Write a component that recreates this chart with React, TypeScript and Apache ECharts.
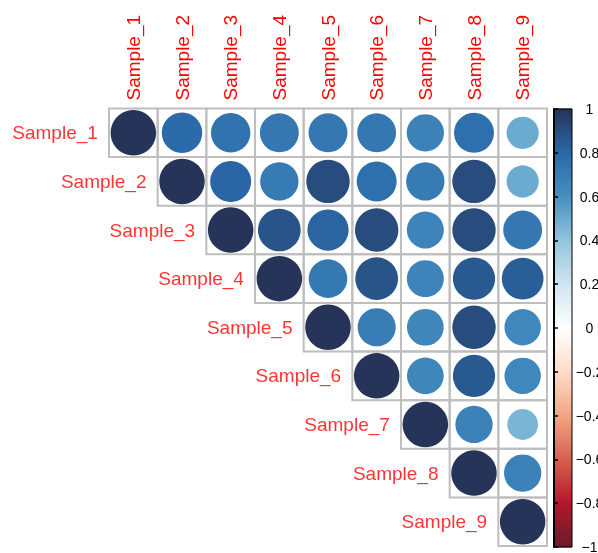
import React, { useEffect, useRef } from "react";
import * as echarts from "echarts";

const samples = ["Sample_1", "Sample_2", "Sample_3", "Sample_4", "Sample_5", "Sample_6", "Sample_7", "Sample_8", "Sample_9"];

// upper-triangle correlations, row i starts at column i
const row1 = [1, 0.79, 0.75, 0.73, 0.73, 0.73, 0.67, 0.77, 0.5];
const row2 = [1, 0.81, 0.71, 0.91, 0.77, 0.71, 0.91, 0.5];
const row3 = [1, 0.88, 0.82, 0.91, 0.66, 0.91, 0.73];
const row4 = [1, 0.72, 0.88, 0.66, 0.86, 0.84];
const row5 = [1, 0.7, 0.65, 0.91, 0.64];
const row6 = [1, 0.65, 0.86, 0.64];
const row7 = [1, 0.67, 0.46];
const row8 = [1, 0.67];
const row9 = [1];
const corrRows = [row1, row2, row3, row4, row5, row6, row7, row8, row9];

// colour scale from -1 to 1
const colorStops = [
  "#6b1a2c", "#b2182b", "#d6604d", "#f4a582", "#fddbc7", "#ffffff",
  "#d1e5f0", "#92c5de", "#4690c1", "#2a69a9", "#263459",
];
const legendTicks = { min: -1, max: 1, interval: 0.2 };
const legendSteps = 200;

export default function App() {
  const ref = useRef<HTMLDivElement>(null);
  useEffect(() => {
    const chart = echarts.init(ref.current!, undefined, { renderer: "svg" });
    const cells: number[][] = [];
    const circles: number[][] = [];
    corrRows.forEach((row, i) => {
      row.forEach((v, k) => {
        const j = i + k;
        cells.push([j, i]);
        circles.push([j, i, v]);
      });
    });
    const step = (legendTicks.max - legendTicks.min) / legendSteps;
    const slices: number[][] = [];
    for (let k = 0; k < legendSteps; k++) {
      const v = legendTicks.min + step * (k + 0.5);
      slices.push([0.5, v, v]);
    }
    const font = "Liberation Sans, Arial, sans-serif";
    chart.setOption({
      animation: false,
      grid: [
        { left: 109, top: 108.5, width: 438, height: 437.5, outerBoundsMode: "none", containLabel: false },
        {
          left: 554, top: 109, width: 18, height: 438, show: true,
          outerBoundsMode: "none", containLabel: false,
          borderColor: "#000", borderWidth: 1, backgroundColor: "transparent", z: 10,
        },
      ],
      xAxis: [
        {
          type: "category", data: samples, position: "top", gridIndex: 0,
          axisLine: { show: false }, axisTick: { show: false }, splitLine: { show: false },
          axisLabel: { rotate: -90, color: "red", fontSize: 19, margin: 8, fontFamily: font },
        },
        { type: "value", gridIndex: 1, show: false, min: 0, max: 1 },
      ],
      yAxis: [
        { type: "category", data: samples, inverse: true, gridIndex: 0, show: false },
        {
          type: "value", gridIndex: 1, position: "right",
          min: legendTicks.min, max: legendTicks.max, interval: legendTicks.interval,
          axisLine: { show: true, lineStyle: { color: "#000", width: 2 } },
          axisTick: { show: true, length: 4, lineStyle: { color: "#000", width: 1.5 } },
          splitLine: { show: false },
          axisLabel: {
            color: "#000", fontSize: 14, fontFamily: font, align: "center", margin: 17.5,
            formatter: (v: number) => {
              const r = Math.round(v * 10) / 10;
              return String(r).replace("-", "\u2212");
            },
          },
          z: 10,
        },
      ],
      visualMap: {
        type: "continuous", min: -1, max: 1, dimension: 2, seriesIndex: [1, 3], show: false,
        inRange: { color: colorStops },
      },
      series: [
        {
          type: "custom", xAxisIndex: 0, yAxisIndex: 0, z: 2, data: cells,
          encode: { x: 0, y: 1 },
          renderItem: (params: any, api: any) => {
            const p = api.coord([api.value(0), api.value(1)]);
            const s = api.size([1, 1]);
            return {
              type: "rect",
              shape: { x: p[0] - s[0] / 2, y: p[1] - s[1] / 2, width: s[0], height: s[1] },
              style: { fill: "transparent", stroke: "#bebebe", lineWidth: 2 },
            };
          },
        },
        {
          type: "scatter", xAxisIndex: 0, yAxisIndex: 0, z: 3, data: circles,
          symbol: "circle", itemStyle: { opacity: 1 },
          symbolSize: (val: number[]) => 45.5 * Math.sqrt(Math.abs(val[2])),
        },
        {
          type: "scatter", xAxisIndex: 0, yAxisIndex: 0, z: 4,
          data: samples.map((_, i) => [i, i]),
          symbolSize: 1, itemStyle: { color: "rgba(0,0,0,0)" },
          label: {
            show: true, position: "left", distance: 35, color: "red", fontSize: 19,
            fontFamily: font,
            formatter: (p: any) => samples[p.dataIndex],
          },
        },
        {
          type: "custom", xAxisIndex: 1, yAxisIndex: 1, z: 5, data: slices,
          encode: { x: 0, y: 1 },
          renderItem: (params: any, api: any) => {
            const v = api.value(1);
            const top = api.coord([0, v + step / 2]);
            const bot = api.coord([1, v - step / 2]);
            const x0 = Math.min(top[0], bot[0]);
            const w = Math.abs(bot[0] - top[0]);
            return {
              type: "rect",
              shape: { x: x0, y: top[1] - 0.4, width: w, height: bot[1] - top[1] + 0.8 },
              style: { fill: api.visual("color") },
            };
          },
        },
      ],
    });
    return () => chart.dispose();
  }, []);
  return <div ref={ref} style={{ position: "fixed", left: 0, top: 0, width: 598, height: 553 }} />;
}
